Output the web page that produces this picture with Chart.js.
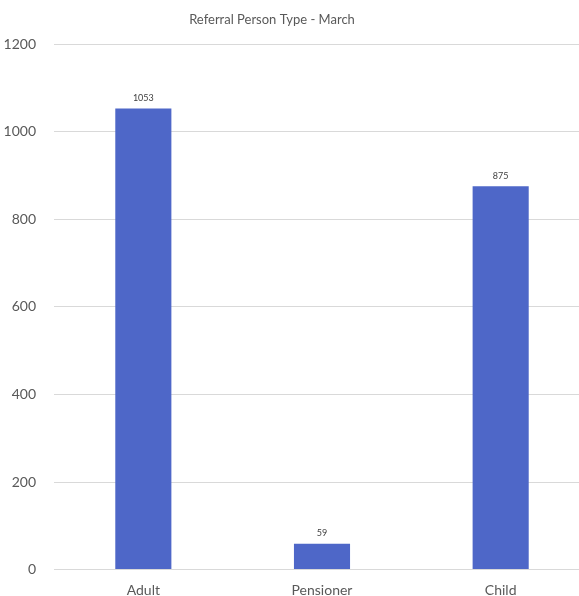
<!DOCTYPE html>
<html>
<head>
<meta charset="utf-8">
<title>Referral Person Type - March</title>
<script src="https://cdn.jsdelivr.net/npm/chart.js@4"></script>
<style>
    html, body { margin: 0; padding: 0; background: #fff; overflow: hidden; }
    #wrap { width: 590px; height: 596px; }
</style>
</head>
<body>
<div id="wrap"><canvas id="chart" width="590" height="596"></canvas></div>
<script>
// Chart data
const categories = ['Adult', 'Pensioner', 'Child'];
const referrals = [1053, 59, 875];
const yTicks = [0, 200, 400, 600, 800, 1000, 1200];

const chartTitle = 'Referral Person Type - March';
const textColor = '#595959';
const fontFamily = 'Lato, "Open Sans", sans-serif';

// Title drawn at a fixed spot above the plot
const titlePlugin = {
    id: 'fixedTitle',
    afterDraw(chart) {
        const ctx = chart.ctx;
        ctx.save();
        ctx.font = '13px ' + fontFamily;
        ctx.fillStyle = textColor;
        ctx.textAlign = 'center';
        ctx.textBaseline = 'middle';
        ctx.fillText(chartTitle, 272, 20);
        ctx.restore();
    }
};

// Value labels above each bar
const valueLabels = {
    id: 'valueLabels',
    afterDatasetsDraw(chart) {
        const ctx = chart.ctx;
        ctx.save();
        ctx.font = '9px ' + fontFamily;
        ctx.fillStyle = '#404040';
        ctx.textAlign = 'center';
        ctx.textBaseline = 'bottom';
        chart.getDatasetMeta(0).data.forEach((bar, i) => {
            ctx.fillText(referrals[i], bar.x, bar.y - 6);
        });
        ctx.restore();
    }
};

new Chart(document.getElementById('chart'), {
    type: 'bar',
    data: {
        labels: categories,
        datasets: [{
            data: referrals,
            backgroundColor: '#4e67c8',
            categoryPercentage: 1,
            barPercentage: 0.314
        }]
    },
    options: {
        responsive: false,
        animation: false,
        layout: { padding: { top: 44, left: 0, right: 0, bottom: 0 } },
        plugins: {
            legend: { display: false },
            title: { display: false },
            tooltip: { enabled: false }
        },
        scales: {
            x: {
                grid: { display: false, drawTicks: false },
                border: { display: false },
                ticks: {
                    color: textColor,
                    font: { family: fontFamily, size: 14 },
                    padding: 12
                },
                afterFit(axis) { axis.height = 26; }
            },
            y: {
                min: 0,
                max: 1200,
                grid: { color: '#d9d9d9', drawTicks: false },
                border: { display: false },
                afterBuildTicks(axis) {
                    axis.ticks = yTicks.map(v => ({ value: v }));
                },
                ticks: {
                    color: textColor,
                    font: { family: fontFamily, size: 14 },
                    padding: 18,
                    callback: value => String(value)
                },
                afterFit(axis) { axis.width = 54; }
            }
        }
    },
    plugins: [titlePlugin, valueLabels]
});
</script>
</body>
</html>
